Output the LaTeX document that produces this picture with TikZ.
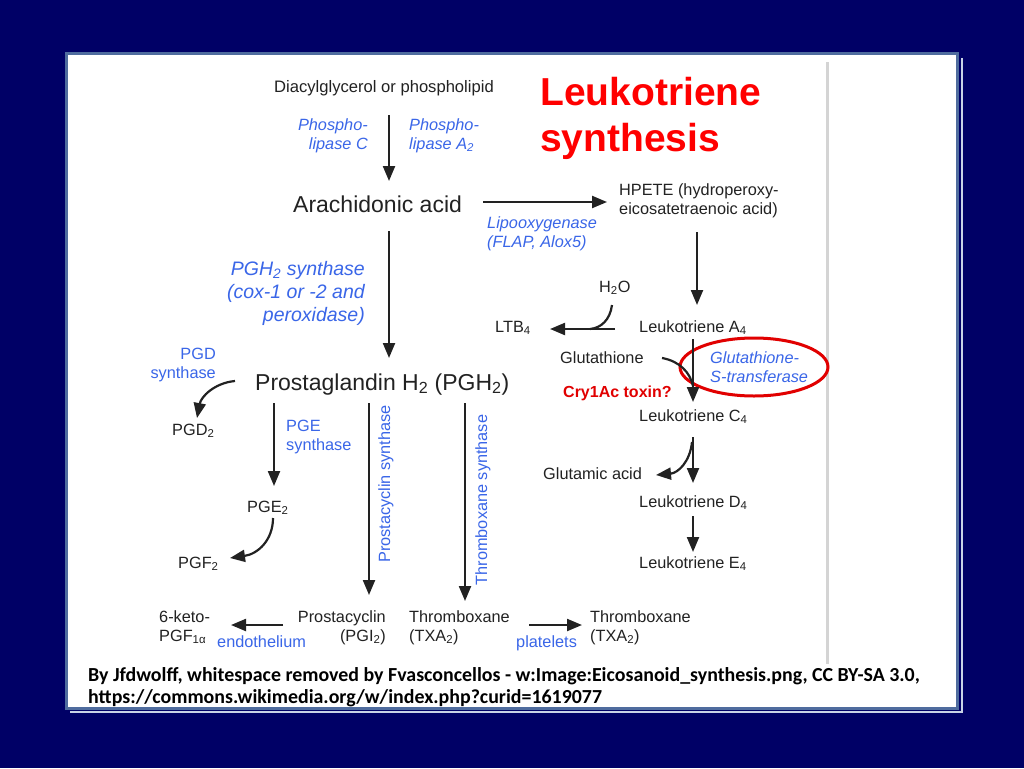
\documentclass[tikz,border=0pt]{standalone}
\usepackage{fontspec}
\setmainfont{Liberation Sans}
\newfontfamily\footfont{Carlito}
\usetikzlibrary{arrows.meta}
\definecolor{navybg}{RGB}{0,0,102}
\definecolor{frameblue}{RGB}{79,108,158}
\definecolor{bevel}{RGB}{200,210,230}
\definecolor{enzblue}{RGB}{58,102,232}
\definecolor{txt}{RGB}{34,34,34}
\definecolor{grayline}{RGB}{212,212,212}
\definecolor{hired}{RGB}{255,0,0}
\definecolor{ellred}{RGB}{225,0,0}
\newcommand\sbs[1]{\textsubscript{#1}}
\begin{document}
\begin{tikzpicture}[x=1pt,y=-1pt,
 lbl/.style={inner sep=0pt, text=txt, font=\fontsize{16.3}{19}\selectfont},
 big/.style={inner sep=0pt, text=txt, font=\fontsize{23}{27}\selectfont},
 enz/.style={inner sep=0pt, text=enzblue, font=\fontsize{16.3}{19}\selectfont\itshape},
 enzup/.style={inner sep=0pt, text=enzblue, font=\fontsize{16.3}{19}\selectfont},
 arr/.style={line width=2.2pt, draw=txt, -{Triangle[width=12pt,length=15pt]}},
 plain/.style={line width=2.2pt, draw=txt},
]
% background and panel
\fill[navybg] (0,0) rectangle (1024,768);
\useasboundingbox (0,0) rectangle (1024,768);
\draw[bevel, line width=1.5pt] (962,58) -- (962,712) -- (70,712);
\filldraw[fill=white, draw=frameblue, line width=3pt] (66.5,53.5) rectangle (957.5,708.5);
\draw[grayline, line width=3pt] (827,62) -- (827,664);

% title
\node[inner sep=0pt, anchor=north west, align=left, text=hired,
      font=\fontsize{39}{46}\selectfont\bfseries] (title) at (540,76.6) {Leukotriene\\synthesis};

% left/top texts
\node[lbl, anchor=base west, font=\fontsize{16.6}{19}\selectfont] (dag) at (274,92) {Diacylglycerol or phospholipid};
\node[enz, anchor=north east, align=right] (plc) at (368,118.3) {Phospho-\\lipase C};
\node[enz, anchor=north west, align=left] (pla) at (409,118.3) {Phospho-\\lipase A\sbs{2}};
\node[big, anchor=base west] (arach) at (293,212) {Arachidonic acid};
\node[lbl, anchor=north west, align=left] (hpete) at (619,183.3) {HPETE (hydroperoxy-\\eicosatetraenoic acid)};
\node[enz, anchor=north west, align=left] (lox) at (487,216.3) {Lipooxygenase\\(FLAP, Alox5)};
\node[inner sep=0pt, text=enzblue, font=\fontsize{19.5}{23}\selectfont\itshape,
      anchor=north east, align=right] (pghs) at (365,260.8) {PGH\sbs{2} synthase\\(cox-1 or -2 and\\peroxidase)};
\node[big, anchor=base west] (pgh2) at (255,390) {Prostaglandin H\sbs{2} (PGH\sbs{2})};
\node[enzup, anchor=north east, align=right] (pgds) at (216,348.3) {PGD\\synthase};
\node[lbl, anchor=base west] (pgd2) at (172,435) {PGD\sbs{2}};
\node[enzup, anchor=north west, align=left] (pges) at (286,420.3) {PGE\\synthase};
\node[lbl, anchor=base west] (pge2) at (247,512) {PGE\sbs{2}};
\node[lbl, anchor=base west] (pgf2) at (178,568) {PGF\sbs{2}};
\node[enzup, rotate=90, anchor=base] (pcs) at (390,484) {Prostacyclin synthase};
\node[enzup, rotate=90, anchor=base] (txs) at (487,500) {Thromboxane synthase};
\node[lbl, anchor=north east, align=right] (pgi2) at (386,610.3) {Prostacyclin\\(PGI\sbs{2})};
\node[lbl, anchor=north west, align=left] (txa2) at (409,610.3) {Thromboxane\\(TXA\sbs{2})};
\node[lbl, anchor=north west, align=left] (keto) at (159,610.3) {6-keto-\\PGF\sbs{1α}};
\node[enzup, anchor=base west] (endo) at (217,647) {endothelium};
\node[enzup, anchor=base west] (plat) at (516,647) {platelets};
\node[lbl, anchor=north west, align=left] (txa2b) at (590,610.3) {Thromboxane\\(TXA\sbs{2})};

% right column
\node[lbl, anchor=base west] (h2o) at (599,292) {H\sbs{2}O};
\node[lbl, anchor=base west] (lta4) at (639,332) {Leukotriene A\sbs{4}};
\node[lbl, anchor=base west] (ltb4) at (495,332) {LTB\sbs{4}};
\node[lbl, anchor=base west] (glut) at (560,363) {Glutathione};
\node[enz, anchor=north west, align=left] (gst) at (710,351.3) {Glutathione-\\S-transferase};
\node[inner sep=0pt, text=ellred, font=\fontsize{16}{19}\selectfont\bfseries, anchor=base west] (cry) at (563,397) {Cry1Ac toxin?};
\node[lbl, anchor=base west] (ltc4) at (639,421) {Leukotriene C\sbs{4}};
\node[lbl, anchor=base west] (glu) at (543,479) {Glutamic acid};
\node[lbl, anchor=base west] (ltd4) at (639,507) {Leukotriene D\sbs{4}};
\node[lbl, anchor=base west] (lte4) at (639,568) {Leukotriene E\sbs{4}};
\draw[ellred, line width=3pt] (754,367) ellipse [x radius=74, y radius=29];

% footer
\node[inner sep=0pt, anchor=north west, align=left, text=black,
      font=\footfont\fontsize{19.9}{22}\selectfont\bfseries] (foot) at (88,667.2)
  {By Jfdwolff, whitespace removed by Fvasconcellos - w:Image:Eicosanoid\_synthesis.png, CC BY-SA 3.0,\\https://commons.wikimedia.org/w/index.php?curid=1619077};

% connector end points
\coordinate (a1s) at (389,115);  \coordinate (a1e) at (389,181);
\coordinate (a2s) at (483,202);  \coordinate (a2e) at (607,202);
\coordinate (a3s) at (389,231);  \coordinate (a3e) at (389,358);
\coordinate (a4s) at (697,232);  \coordinate (a4e) at (697,305);
\coordinate (pgdS) at (235,381); \coordinate (pgdE) at (197,418);
\coordinate (a5s) at (274,403);  \coordinate (a5e) at (274,486);
\coordinate (pgeS) at (273,518); \coordinate (pgeE) at (230,558);
\coordinate (a6s) at (369,403);  \coordinate (a6e) at (369,595);
\coordinate (a7s) at (465,403);  \coordinate (a7e) at (465,601);
\coordinate (a8s) at (283,625);  \coordinate (a8e) at (231,625);
\coordinate (a9s) at (529,625);  \coordinate (a9e) at (582,625);
\coordinate (h2oS) at (612,305); \coordinate (h2oJ) at (590,329);
\coordinate (ltbS) at (615,329); \coordinate (ltbE) at (550,329);
\coordinate (a10s) at (693,339); \coordinate (a10e) at (693,402);
\coordinate (gluS) at (662,358); \coordinate (gluJ) at (693,386);
\coordinate (a11s) at (693,437); \coordinate (a11e) at (693,483);
\coordinate (gmS) at (692,442);  \coordinate (gmE) at (656,475);
\coordinate (a12s) at (693,516); \coordinate (a12e) at (693,552);

\draw[arr] (a1s) -- (a1e);
\draw[arr] (a2s) -- (a2e);
\draw[arr] (a3s) -- (a3e);
\draw[arr] (a4s) -- (a4e);
\draw[arr] (pgdS) .. controls (214,383) and (201,397) .. (pgdE);
\draw[arr] (a5s) -- (a5e);
\draw[arr] (pgeS) .. controls (273,540) and (258,554) .. (pgeE);
\draw[arr] (a6s) -- (a6e);
\draw[arr] (a7s) -- (a7e);
\draw[arr] (a8s) -- (a8e);
\draw[arr] (a9s) -- (a9e);
\draw[plain] (h2oS) .. controls (610,320) and (601,328) .. (h2oJ);
\draw[arr] (ltbS) -- (ltbE);
\draw[arr] (a10s) -- (a10e);
\draw[plain] (gluS) .. controls (679,361) and (690,372) .. (gluJ);
\draw[arr] (a11s) -- (a11e);
\draw[arr] (gmS) .. controls (690,462) and (678,473) .. (gmE);
\draw[arr] (a12s) -- (a12e);
\end{tikzpicture}
\end{document}
